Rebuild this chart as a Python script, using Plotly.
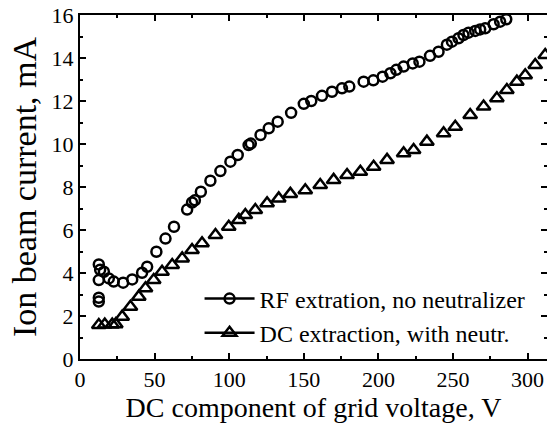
import plotly.graph_objects as go

rf_x = [12.6, 12.6, 12.6, 12.6, 13.5, 16.0, 19.3, 22.6, 28.9, 35.0, 41.6, 45.0, 51.2, 57.3, 63.0,
        71.8, 75.1, 77.0, 81.0, 87.4, 94.1, 100.8, 105.7, 113.0, 114.5, 121.0, 126.5, 132.5,
        141.5, 150.0, 155.0, 162.2, 168.9, 175.6, 180.5, 190.1, 196.6, 202.8, 208.0, 212.0,
        216.9, 223.0, 227.5, 234.6, 240.3, 245.9, 249.3, 253.7, 257.0, 260.4, 264.9, 268.2,
        271.6, 277.2, 281.6, 285.7]
rf_y = [4.40, 3.67, 2.67, 2.85, 4.15, 4.06, 3.75, 3.60, 3.55, 3.70, 4.01, 4.29, 4.99, 5.60, 6.15,
        6.95, 7.28, 7.38, 7.78, 8.29, 8.74, 9.18, 9.49, 9.95, 10.02, 10.42, 10.73, 11.04,
        11.45, 11.87, 12.00, 12.24, 12.43, 12.59, 12.67, 12.90, 12.96, 13.13, 13.29, 13.45,
        13.60, 13.75, 13.83, 14.10, 14.29, 14.62, 14.76, 14.92, 15.07, 15.18, 15.26, 15.33,
        15.38, 15.57, 15.69, 15.80]

dc_x = [12.6, 16.6, 21.6, 24.0, 28.3, 33.8, 39.4, 43.9, 49.4, 55.0, 61.8, 68.5, 75.1, 81.8,
        90.8, 99.7, 106.4, 110.8, 117.5, 125.4, 133.2, 141.0, 151.0, 161.0, 170.0, 179.0,
        187.9, 196.8, 205.8, 216.9, 223.6, 232.5, 243.7, 251.5, 261.5, 270.5, 279.4, 286.1,
        292.8, 298.4, 305.1, 311.8]
dc_y = [1.58, 1.60, 1.60, 1.62, 1.97, 2.43, 2.90, 3.29, 3.67, 4.06, 4.37, 4.68, 5.07, 5.38,
        5.77, 6.15, 6.47, 6.70, 6.93, 7.24, 7.47, 7.68, 7.85, 8.09, 8.33, 8.56,
        8.71, 8.94, 9.26, 9.57, 9.72, 10.11, 10.50, 10.80, 11.35, 11.74, 12.13, 12.51,
        12.90, 13.20, 13.67, 14.14]

rf_name = "RF extration, no neutralizer"
dc_name = "DC extraction, with neutr."
x_title = "DC component of grid voltage, V"
y_title = "Ion beam current, mA"

FONT = "Times New Roman, Liberation Serif, serif"
circ = dict(symbol="circle-open", size=10, color="black", line=dict(width=2.5, color="black"))
tri = dict(symbol="triangle-up-open", size=12, color="black", line=dict(width=2.5, color="black"))

fig = go.Figure()
fig.add_trace(go.Scatter(x=rf_x, y=rf_y, mode="markers", marker=circ, showlegend=False))
fig.add_trace(go.Scatter(x=dc_x, y=dc_y, mode="markers", marker=tri, showlegend=False))
fig.add_trace(go.Scatter(x=[None], y=[None], mode="lines+markers", name=rf_name,
                         marker=circ, line=dict(color="black", width=2.5)))
fig.add_trace(go.Scatter(x=[None], y=[None], mode="lines+markers", name=dc_name,
                         marker=tri, line=dict(color="black", width=2.5)))

axis_common = dict(
    showline=True, linecolor="black", linewidth=2, mirror="ticks",
    ticks="inside", ticklen=6, tickwidth=1.5, tickcolor="black",
    showgrid=False, zeroline=False, automargin=False,
    ticklabeloverflow="allow",
    tickfont=dict(family=FONT, size=22, color="black"),
)

fig.update_xaxes(range=[0, 313], dtick=50, tick0=0,
                 minor=dict(ticks="inside", ticklen=3, dtick=25, tickcolor="black", tickwidth=1.5),
                 title=dict(text=x_title, font=dict(family=FONT, size=28, color="black"), standoff=4),
                 **axis_common)
fig.update_yaxes(range=[0, 16], dtick=2, tick0=0,
                 minor=dict(ticks="inside", ticklen=3, dtick=1, tickcolor="black", tickwidth=1.5),
                 title=dict(text=y_title, font=dict(family=FONT, size=34, color="black"), standoff=5),
                 **axis_common)

fig.update_layout(
    width=547, height=426,
    margin=dict(l=79.5, r=0, t=15, b=67),
    paper_bgcolor="white", plot_bgcolor="white",
    font=dict(family=FONT, color="black"),
    legend=dict(x=0.256, y=0.125, xanchor="left", yanchor="middle",
                bgcolor="rgba(0,0,0,0)", font=dict(family=FONT, size=24, color="black"),
                itemwidth=50, tracegroupgap=0),
)

# remove the browser's default 8px body margin so the figure fills the window exactly
fig.write_html("out.html", config={"displayModeBar": False},
               post_script="document.body.style.margin='0';")
